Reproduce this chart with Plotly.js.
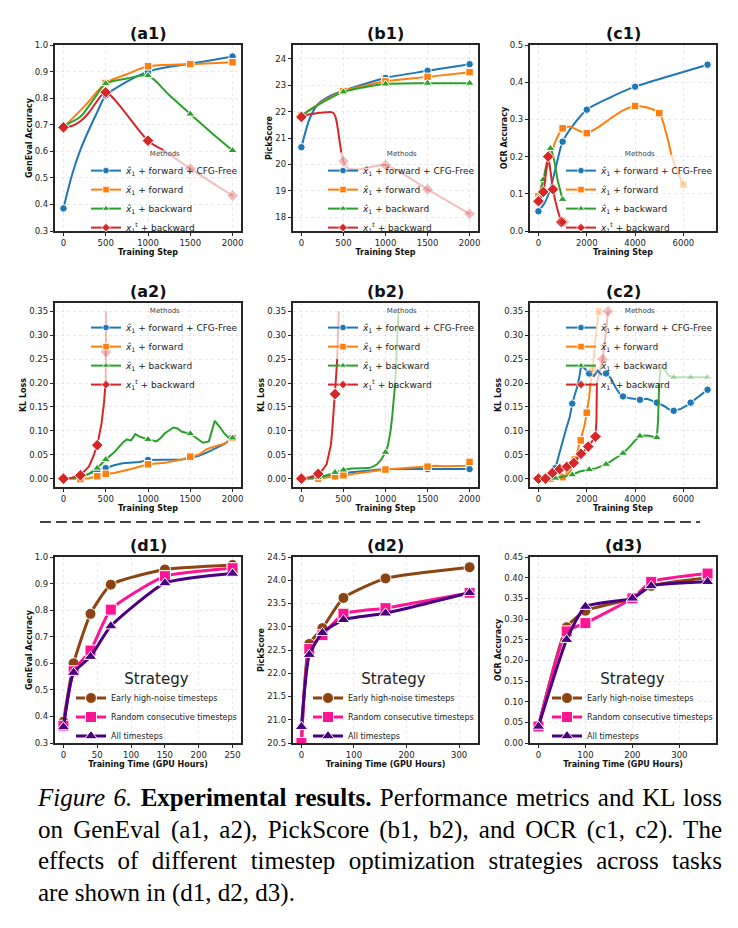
<!DOCTYPE html>
<html>
<head>
<meta charset="utf-8">
<script src="https://cdn.plot.ly/plotly-3.0.1.min.js"></script>
<style>
  html, body { margin:0; padding:0; background:#ffffff; }
  body { width:738px; height:928px; overflow:hidden; position:relative; }
  #plot { position:absolute; left:0; top:0; width:738px; height:780px; }
  #cap { position:absolute; left:38px; top:782px; width:684px; font-family:"Liberation Serif","Times New Roman",serif; font-size:25px; line-height:31.5px; color:#000; }
  #cap .ln { text-align:justify; text-align-last:justify; white-space:normal; }
  #cap .last { text-align:left; text-align-last:left; }
</style>
</head>
<body>
<div id="plot"></div>
<div id="cap">
  <div class="ln"><i>Figure 6.</i> <b>Experimental results.</b> Performance metrics and KL loss</div>
  <div class="ln">on GenEval (a1, a2), PickScore (b1, b2), and OCR (c1, c2). The</div>
  <div class="ln">effects of different timestep optimization strategies across tasks</div>
  <div class="ln last">are shown in (d1, d2, d3).</div>
</div>
<script>
// ---------------- DATA ----------------
const methodNames = [
  '<i>x̂</i><sub>1</sub> + forward + CFG-Free',
  '<i>x̂</i><sub>1</sub> + forward',
  '<i>x̂</i><sub>1</sub> + backward',
  '<i>x</i><sub>1</sub><sup>t</sup> + backward'
];
const strategyNames = ['Early high-noise timesteps', 'Random consecutive timesteps', 'All timesteps'];
const panelTitles = ['(a1)', '(b1)', '(c1)', '(a2)', '(b2)', '(c2)', '(d1)', '(d2)', '(d3)'];

const stepTicks = [0, 500, 1000, 1500, 2000];
const ocrStepTicks = [0, 2000, 4000, 6000];
const accTicks = [0.3, 0.4, 0.5, 0.6, 0.7, 0.8, 0.9, 1.0];
const pickTicks = [18, 19, 20, 21, 22, 23, 24];
const ocrTicks = [0.0, 0.1, 0.2, 0.3, 0.4, 0.5];
const klTicks = [0.00, 0.05, 0.10, 0.15, 0.20, 0.25, 0.30, 0.35];
const gpuTicksD1 = [0, 50, 100, 150, 200, 250];
const gpuTicksD23 = [0, 100, 200, 300];
const pickTicksD2 = [20.5, 21.0, 21.5, 22.0, 22.5, 23.0, 23.5, 24.0, 24.5];
const ocrTicksD3 = [0.00, 0.05, 0.10, 0.15, 0.20, 0.25, 0.30, 0.35, 0.40, 0.45];

// (a1) GenEval accuracy vs training step
const a1_cfg_line = [[0,0.385],[100,0.51],[200,0.605],[300,0.68],[400,0.748],[500,0.81],[750,0.862],[1000,0.9],[1250,0.918],[1500,0.93],[1750,0.943],[2000,0.957]];
const a1_cfg_mk = [[0,0.385],[500,0.81],[1000,0.9],[1500,0.93],[2000,0.957]];
const a1_fwd_line = [[0,0.69],[250,0.77],[500,0.857],[750,0.89],[1000,0.92],[1500,0.928],[2000,0.935]];
const a1_fwd_mk = [[0,0.69],[500,0.857],[1000,0.92],[1500,0.928],[2000,0.935]];
const a1_bwd_line = [[0,0.695],[200,0.73],[300,0.77],[400,0.815],[500,0.855],[750,0.874],[1000,0.885],[1250,0.812],[1500,0.74],[1750,0.67],[2000,0.603]];
const a1_bwd_mk = [[0,0.695],[500,0.855],[1000,0.885],[1500,0.74],[2000,0.603]];
const a1_x1t_line = [[0,0.69],[100,0.695],[200,0.713],[300,0.745],[400,0.79],[500,0.822],[1000,0.64],[1180,0.605]];
const a1_x1t_fade = [[1180,0.605],[1500,0.535],[2000,0.433]];
const a1_x1t_mk = [[0,0.69],[500,0.822],[1000,0.64]];
const a1_x1t_fmk = [[1500,0.535],[2000,0.433]];

// (b1) PickScore vs training step
const b1_cfg_line = [[0,20.65],[100,21.75],[200,22.3],[300,22.52],[400,22.68],[500,22.8],[750,23.05],[1000,23.28],[1500,23.55],[2000,23.8]];
const b1_cfg_mk = [[0,20.65],[500,22.8],[1000,23.28],[1500,23.55],[2000,23.8]];
const b1_fwd_line = [[0,21.85],[250,22.38],[500,22.78],[750,22.98],[1000,23.15],[1500,23.32],[2000,23.5]];
const b1_fwd_mk = [[0,21.85],[500,22.78],[1000,23.15],[1500,23.32],[2000,23.5]];
const b1_bwd_line = [[0,21.85],[250,22.35],[500,22.75],[750,22.93],[1000,23.05],[1500,23.08],[2000,23.08]];
const b1_bwd_mk = [[0,21.85],[500,22.75],[1000,23.05],[1500,23.08],[2000,23.08]];
const b1_x1t_line = [[0,21.8],[100,21.9],[200,21.95],[300,21.98],[370,21.97],[400,21.85],[420,21.6],[440,21.2],[460,20.75],[475,20.45]];
const b1_x1t_fade = [[475,20.45],[500,20.12],[550,19.87],[650,19.8],[800,19.88],[1000,19.97],[1500,19.05],[2000,18.12]];
const b1_x1t_mk = [[0,21.8]];
const b1_x1t_fmk = [[500,20.12],[1000,19.97],[1500,19.05],[2000,18.12]];

// (c1) OCR accuracy vs training step
const c1_cfg_line = [[0,0.053],[250,0.075],[500,0.115],[750,0.18],[1000,0.24],[1500,0.29],[2000,0.326],[3000,0.36],[4000,0.388],[5500,0.418],[7000,0.447]];
const c1_cfg_mk = [[0,0.053],[1000,0.24],[2000,0.326],[4000,0.388],[7000,0.447]];
const c1_fwd_line = [[0,0.093],[300,0.16],[500,0.2],[700,0.24],[1000,0.276],[1300,0.28],[1600,0.272],[2000,0.263],[2500,0.28],[3000,0.303],[3500,0.324],[4000,0.336],[4500,0.332],[5000,0.317],[5300,0.26],[5500,0.205]];
const c1_fwd_fade = [[5500,0.205],[5750,0.16],[6000,0.125]];
const c1_fwd_mk = [[0,0.093],[1000,0.276],[2000,0.263],[4000,0.336],[5000,0.317]];
const c1_fwd_fmk = [[6000,0.125]];
const c1_bwd_line = [[0,0.09],[200,0.138],[350,0.185],[500,0.222],[650,0.19],[800,0.135],[1000,0.085]];
const c1_bwd_mk = [[0,0.09],[200,0.138],[500,0.222],[1000,0.085]];
const c1_x1t_line = [[0,0.08],[200,0.105],[300,0.15],[400,0.2],[500,0.16],[600,0.112],[780,0.06],[950,0.024]];
const c1_x1t_fade = [[950,0.024],[1050,0.024]];
const c1_x1t_mk = [[0,0.08],[200,0.105],[400,0.2],[600,0.112],[950,0.024]];
const c1_x1t_fmk = [[1050,0.024]];

// (a2) KL loss, GenEval
const a2_cfg_line = [[0,0],[200,0.003],[300,0.01],[400,0.016],[500,0.022],[600,0.028],[700,0.032],[900,0.035],[1000,0.039],[1200,0.039],[1400,0.04],[1500,0.043],[1600,0.048],[1700,0.055],[1800,0.063],[1900,0.072],[2000,0.085]];
const a2_cfg_mk = [[0,0],[400,0.016],[500,0.022],[1000,0.039],[1500,0.043],[2000,0.085]];
const a2_fwd_line = [[0,0],[200,-0.001],[300,0.001],[400,0.005],[500,0.01],[600,0.012],[800,0.02],[1000,0.03],[1200,0.033],[1400,0.04],[1500,0.046],[1600,0.05],[1700,0.062],[1800,0.068],[1900,0.073],[2000,0.085]];
const a2_fwd_mk = [[0,0],[200,-0.001],[400,0.005],[500,0.01],[1000,0.03],[1500,0.046],[2000,0.085]];
const a2_bwd_line = [[0,0],[200,0.003],[300,0.01],[400,0.022],[500,0.04],[600,0.055],[700,0.075],[750,0.082],[800,0.08],[850,0.093],[900,0.088],[1000,0.082],[1100,0.078],[1150,0.085],[1200,0.095],[1300,0.107],[1350,0.105],[1400,0.098],[1500,0.094],[1600,0.08],[1650,0.075],[1720,0.078],[1760,0.1],[1790,0.121],[1850,0.108],[1900,0.095],[1950,0.086],[2000,0.085]];
const a2_bwd_mk = [[0,0],[400,0.022],[500,0.04],[1000,0.082],[1500,0.094],[2000,0.085]];
const a2_x1t_line = [[0,0],[100,0.002],[200,0.007],[300,0.025],[350,0.045],[400,0.07],[450,0.115],[480,0.16],[500,0.205]];
const a2_x1t_fade = [[500,0.205],[502,0.265],[505,0.35]];
const a2_x1t_mk = [[0,0],[200,0.007],[400,0.07]];
const a2_x1t_fmk = [[502,0.265]];

// (b2) KL loss, PickScore
const b2_cfg_line = [[0,0],[200,0.003],[500,0.012],[1000,0.02],[1500,0.02],[2000,0.02]];
const b2_cfg_mk = [[0,0],[500,0.012],[1000,0.02],[1500,0.02],[2000,0.02]];
const b2_fwd_line = [[0,0],[200,0],[400,0.005],[500,0.007],[1000,0.019],[1500,0.025],[1600,0.027],[1700,0.026],[1800,0.027],[1950,0.027],[2000,0.035]];
const b2_fwd_mk = [[0,0],[200,0],[400,0.005],[500,0.007],[1000,0.019],[1500,0.025],[2000,0.035]];
const b2_bwd_line = [[0,0],[200,0.002],[300,0.007],[400,0.013],[500,0.018],[600,0.021],[800,0.022],[850,0.025],[900,0.03],[950,0.04],[1000,0.055],[1030,0.07],[1060,0.1],[1080,0.13],[1100,0.165],[1115,0.2]];
const b2_bwd_fade = [[1115,0.2],[1135,0.27],[1155,0.35]];
const b2_bwd_mk = [[0,0],[200,0.002],[400,0.013],[500,0.018],[1000,0.055]];
const b2_x1t_line = [[0,0],[100,0.003],[200,0.01],[250,0.018],[300,0.03],[325,0.048],[350,0.07],[365,0.097],[380,0.13],[400,0.177],[415,0.22],[425,0.25]];
const b2_x1t_fade = [[425,0.25],[435,0.3],[445,0.35]];
const b2_x1t_mk = [[0,0],[200,0.01],[400,0.177]];

// (c2) KL loss, OCR
const c2_cfg_line = [[0,0],[300,0],[500,0.005],[700,0.022],[850,0.05],[1000,0.08],[1150,0.105],[1300,0.13],[1400,0.157],[1500,0.175],[1620,0.194],[1700,0.215],[1750,0.232],[1850,0.234],[1950,0.228],[2100,0.22],[2300,0.215],[2450,0.226],[2600,0.218],[2800,0.22],[3000,0.21],[3200,0.19],[3400,0.175],[3500,0.172],[3800,0.168],[4200,0.165],[4500,0.167],[4800,0.162],[4900,0.159],[5200,0.152],[5400,0.145],[5600,0.142],[5900,0.146],[6200,0.155],[6300,0.159],[6600,0.17],[7000,0.186]];
const c2_cfg_mk = [[0,0],[700,0.022],[1400,0.157],[2100,0.22],[2800,0.22],[3500,0.172],[4200,0.165],[4900,0.159],[5600,0.142],[6300,0.159],[7000,0.186]];
const c2_fwd_line = [[0,0],[500,0],[1000,0.003],[1250,0.015],[1400,0.03],[1500,0.04],[1600,0.055],[1750,0.08],[1900,0.11],[2000,0.138],[2100,0.17],[2150,0.2]];
const c2_fwd_fade = [[2150,0.2],[2250,0.23],[2350,0.29],[2500,0.35]];
const c2_fwd_mk = [[0,0],[500,0],[1000,0.003],[1250,0.015],[1500,0.04],[1750,0.08],[2000,0.138]];
const c2_fwd_fmk = [[2250,0.23],[2500,0.35]];
const c2_bwd_line = [[0,0],[700,0.001],[1000,0.004],[1400,0.008],[1700,0.015],[2100,0.019],[2400,0.022],[2800,0.03],[3100,0.04],[3500,0.053],[3800,0.068],[4000,0.08],[4200,0.089],[4500,0.09],[4900,0.086],[4950,0.12],[5000,0.2]];
const c2_bwd_fade = [[5000,0.2],[5050,0.232],[5200,0.23],[5400,0.215],[5600,0.212],[6300,0.212],[7000,0.212]];
const c2_bwd_mk = [[0,0],[700,0.001],[1400,0.008],[2100,0.019],[2800,0.03],[3500,0.053],[4200,0.089],[4900,0.086]];
const c2_bwd_fmk = [[5600,0.212],[6300,0.212],[7000,0.212]];
const c2_x1t_line = [[0,0],[290,0],[580,0.012],[880,0.02],[1180,0.025],[1460,0.033],[1760,0.052],[2060,0.067],[2360,0.088],[2400,0.12],[2420,0.2]];
const c2_x1t_fade = [[2420,0.2],[2550,0.225],[2660,0.25],[2780,0.3],[2880,0.35]];
const c2_x1t_mk = [[0,0],[290,0],[580,0.012],[880,0.02],[1180,0.025],[1460,0.033],[1760,0.052],[2060,0.067],[2360,0.088]];
const c2_x1t_fmk = [[2660,0.25],[2880,0.35]];

// (d1)-(d3) timestep strategies vs GPU hours
const d1_hours = [0, 15, 40, 70, 150, 250];
const d1_early = [0.38, 0.60, 0.786, 0.896, 0.953, 0.97];
const d1_random = [0.365, 0.57, 0.648, 0.802, 0.928, 0.958];
const d1_all = [0.36, 0.565, 0.625, 0.74, 0.902, 0.938];

const d2_hours = [0, 15, 40, 80, 160, 320];
const d2_early = [20.5, 22.63, 22.97, 23.62, 24.04, 24.28];
const d2_random = [20.5, 22.52, 22.82, 23.28, 23.4, 23.73];
const d2_all = [20.85, 22.4, 22.87, 23.15, 23.29, 23.73];

const d3_hours = [0, 60, 100, 200, 240, 360];
const d3_early = [0.04, 0.28, 0.32, 0.35, 0.38, 0.40];
const d3_random = [0.04, 0.27, 0.29, 0.35, 0.39, 0.41];
const d3_all = [0.04, 0.25, 0.33, 0.35, 0.38, 0.39];

// ---------------- STYLE / LAYOUT ----------------
const W = 738, H = 780;
const cols = [[55, 241], [293, 478], [530, 716]];
const rows = [[45, 231], [303, 487], [557, 743]];
const METHOD_COLORS = ['#1f77b4', '#ff7f0e', '#2ca02c', '#d62728'];
const METHOD_SYMBOLS = ['circle', 'square', 'triangle-up', 'diamond'];
const METHOD_SIZES = [7.5, 7.5, 8, 9];
const STRAT_COLORS = ['#8B4513', '#FF1493', '#4B0082'];
const STRAT_SYMBOLS = ['circle', 'square', 'triangle-up'];
const FONT = 'DejaVu Sans, Arial, sans-serif';

const xs = a => a.map(p => p[0]);
const ys = a => a.map(p => p[1]);
const sfx = k => (k === 1 ? '' : String(k));

const traces = [];
const layout = {
  width: W, height: H,
  margin: {l: 0, r: 0, t: 0, b: 0},
  paper_bgcolor: '#ffffff', plot_bgcolor: '#ffffff',
  showlegend: true,
  annotations: [], shapes: []
};

const panels = [
  {r:0, c:0, xr:[-100,2100], yr:[0.3,1.0], xt:stepTicks, yt:accTicks, yf:'.1f', xtitle:'Training Step', ytitle:'GenEval Accuracy'},
  {r:0, c:1, xr:[-100,2100], yr:[17.47,24.53], xt:stepTicks, yt:pickTicks, yf:'d', xtitle:'Training Step', ytitle:'PickScore'},
  {r:0, c:2, xr:[-350,7350], yr:[0,0.5], xt:ocrStepTicks, yt:ocrTicks, yf:'.1f', xtitle:'Training Step', ytitle:'OCR Accuracy'},
  {r:1, c:0, xr:[-100,2100], yr:[-0.0175,0.3675], xt:stepTicks, yt:klTicks, yf:'.2f', xtitle:'Training Step', ytitle:'KL Loss'},
  {r:1, c:1, xr:[-100,2100], yr:[-0.0175,0.3675], xt:stepTicks, yt:klTicks, yf:'.2f', xtitle:'Training Step', ytitle:'KL Loss'},
  {r:1, c:2, xr:[-350,7350], yr:[-0.0175,0.3675], xt:ocrStepTicks, yt:klTicks, yf:'.2f', xtitle:'Training Step', ytitle:'KL Loss'},
  {r:2, c:0, xr:[-12.5,262.5], yr:[0.3,1.0], xt:gpuTicksD1, yt:accTicks, yf:'.1f', xtitle:'Training Time (GPU Hours)', ytitle:'GenEval Accuracy'},
  {r:2, c:1, xr:[-16,336], yr:[20.5,24.5], xt:gpuTicksD23, yt:pickTicksD2, yf:'.1f', xtitle:'Training Time (GPU Hours)', ytitle:'PickScore'},
  {r:2, c:2, xr:[-18,378], yr:[0,0.45], xt:gpuTicksD23, yt:ocrTicksD3, yf:'.2f', xtitle:'Training Time (GPU Hours)', ytitle:'OCR Accuracy'}
];

const axisCommon = {
  showline: true, mirror: true, linecolor: '#262626', linewidth: 1.6,
  ticks: 'outside', ticklen: 3.5, tickwidth: 1, tickcolor: '#262626',
  tickfont: {family: FONT, size: 8.5, color: '#222'},
  showgrid: true, gridcolor: '#e4e4e4', gridwidth: 0.8, griddash: 'dot',
  zeroline: false, fixedrange: true
};

panels.forEach((p, i) => {
  const k = i + 1, s = sfx(k);
  const [l, r] = cols[p.c], [t, b] = rows[p.r];
  layout['xaxis' + s] = Object.assign({}, axisCommon, {
    domain: [l / W, r / W], anchor: 'y' + s, range: p.xr,
    tickmode: 'array', tickvals: p.xt, ticktext: p.xt.map(String),
    title: {text: '<b>' + p.xtitle + '</b>', font: {family: FONT, size: 8, color: '#111'}, standoff: 2}
  });
  layout['yaxis' + s] = Object.assign({}, axisCommon, {
    domain: [1 - b / H, 1 - t / H], anchor: 'x' + s, range: p.yr,
    tickmode: 'array', tickvals: p.yt, tickformat: p.yf,
    title: {text: '<b>' + p.ytitle + '</b>', font: {family: FONT, size: 8, color: '#111'}, standoff: 1}
  });
  layout.annotations.push({
    text: '<b>' + panelTitles[i] + '</b>', xref: 'paper', yref: 'paper',
    x: (l + r) / 2 / W, y: 1 - (t - 11.5) / H, xanchor: 'center', yanchor: 'middle',
    showarrow: false, font: {family: FONT, size: 16, color: '#111'}
  });
});

function legendCfg(k, leftPx, topPx, title, titleSize, fontSize) {
  layout[k === 1 ? 'legend' : 'legend' + k] = {
    x: leftPx / W, y: 1 - topPx / H, xanchor: 'left', yanchor: 'top',
    xref: 'paper', yref: 'paper', bgcolor: 'rgba(0,0,0,0)', borderwidth: 0,
    font: {family: FONT, size: fontSize, color: '#222'},
    title: {text: title, side: 'top center', font: {family: FONT, size: titleSize, color: title === 'Methods' ? '#444' : '#222'}},
    itemwidth: 30, tracegroupgap: 0, traceorder: 'normal'
  };
}

function addMethod(k, si, line, fade, mk, fmk) {
  const s = sfx(k);
  const base = {xaxis: 'x' + s, yaxis: 'y' + s, showlegend: false, hoverinfo: 'skip'};
  const col = METHOD_COLORS[si];
  const shape = k <= 3 ? {shape: 'spline', smoothing: 0.8} : {shape: 'linear'};
  const mstyle = {symbol: METHOD_SYMBOLS[si], size: METHOD_SIZES[si], color: col, line: {color: '#ffffff', width: 1}};
  if (line) traces.push(Object.assign({}, base, {x: xs(line), y: ys(line), mode: 'lines', line: Object.assign({color: col, width: 2}, shape)}));
  if (fade) traces.push(Object.assign({}, base, {x: xs(fade), y: ys(fade), mode: 'lines', opacity: 0.3, line: Object.assign({color: col, width: 2}, shape)}));
  if (mk) traces.push(Object.assign({}, base, {x: xs(mk), y: ys(mk), mode: 'markers', marker: mstyle}));
  if (fmk) traces.push(Object.assign({}, base, {x: xs(fmk), y: ys(fmk), mode: 'markers', opacity: 0.3, marker: mstyle}));
}
function addMethodLegend(k) {
  const s = sfx(k);
  methodNames.forEach((nm, si) => {
    traces.push({
      x: [null], y: [null], xaxis: 'x' + s, yaxis: 'y' + s, name: nm,
      legend: k === 1 ? 'legend' : 'legend' + k, showlegend: true, hoverinfo: 'skip',
      mode: 'lines+markers', line: {color: METHOD_COLORS[si], width: 2},
      marker: {symbol: METHOD_SYMBOLS[si], size: 6.5, color: METHOD_COLORS[si], line: {color: '#ffffff', width: 0.8}}
    });
  });
}

// row 1
addMethod(1, 0, a1_cfg_line, null, a1_cfg_mk, null);
addMethod(1, 1, a1_fwd_line, null, a1_fwd_mk, null);
addMethod(1, 2, a1_bwd_line, null, a1_bwd_mk, null);
addMethod(1, 3, a1_x1t_line, a1_x1t_fade, a1_x1t_mk, a1_x1t_fmk);
addMethodLegend(1);
addMethod(2, 0, b1_cfg_line, null, b1_cfg_mk, null);
addMethod(2, 1, b1_fwd_line, null, b1_fwd_mk, null);
addMethod(2, 2, b1_bwd_line, null, b1_bwd_mk, null);
addMethod(2, 3, b1_x1t_line, b1_x1t_fade, b1_x1t_mk, b1_x1t_fmk);
addMethodLegend(2);
addMethod(3, 0, c1_cfg_line, null, c1_cfg_mk, null);
addMethod(3, 1, c1_fwd_line, c1_fwd_fade, c1_fwd_mk, c1_fwd_fmk);
addMethod(3, 2, c1_bwd_line, null, c1_bwd_mk, null);
addMethod(3, 3, c1_x1t_line, c1_x1t_fade, c1_x1t_mk, c1_x1t_fmk);
addMethodLegend(3);
// row 2
addMethod(4, 0, a2_cfg_line, null, a2_cfg_mk, null);
addMethod(4, 1, a2_fwd_line, null, a2_fwd_mk, null);
addMethod(4, 2, a2_bwd_line, null, a2_bwd_mk, null);
addMethod(4, 3, a2_x1t_line, a2_x1t_fade, a2_x1t_mk, a2_x1t_fmk);
addMethodLegend(4);
addMethod(5, 0, b2_cfg_line, null, b2_cfg_mk, null);
addMethod(5, 1, b2_fwd_line, null, b2_fwd_mk, null);
addMethod(5, 2, b2_bwd_line, b2_bwd_fade, b2_bwd_mk, null);
addMethod(5, 3, b2_x1t_line, b2_x1t_fade, b2_x1t_mk, null);
addMethodLegend(5);
addMethod(6, 0, c2_cfg_line, null, c2_cfg_mk, null);
addMethod(6, 1, c2_fwd_line, c2_fwd_fade, c2_fwd_mk, c2_fwd_fmk);
addMethod(6, 2, c2_bwd_line, c2_bwd_fade, c2_bwd_mk, c2_bwd_fmk);
addMethod(6, 3, c2_x1t_line, c2_x1t_fade, c2_x1t_mk, c2_x1t_fmk);
addMethodLegend(6);

// row 3
function addStrategies(k, hours, seriesList) {
  const s = sfx(k);
  seriesList.forEach((vals, si) => {
    traces.push({
      x: hours, y: vals, xaxis: 'x' + s, yaxis: 'y' + s, name: strategyNames[si],
      legend: 'legend' + k, showlegend: true, hoverinfo: 'skip',
      mode: 'lines+markers', line: {color: STRAT_COLORS[si], width: 3, shape: 'spline', smoothing: 0.5},
      marker: {symbol: STRAT_SYMBOLS[si], size: 11, color: STRAT_COLORS[si], line: {color: '#ffffff', width: 1}}
    });
  });
}
addStrategies(7, d1_hours, [d1_early, d1_random, d1_all]);
addStrategies(8, d2_hours, [d2_early, d2_random, d2_all]);
addStrategies(9, d3_hours, [d3_early, d3_random, d3_all]);

// legends
legendCfg(1, 86, 147, 'Methods', 7, 9);
legendCfg(2, 323, 147, 'Methods', 7, 9);
legendCfg(3, 561, 147, 'Methods', 7, 9);
legendCfg(4, 86, 304, 'Methods', 7, 9);
legendCfg(5, 323, 304, 'Methods', 7, 9);
legendCfg(6, 561, 304, 'Methods', 7, 9);
legendCfg(7, 71, 664, 'Strategy', 15, 8);
legendCfg(8, 308, 664, 'Strategy', 15, 8);
legendCfg(9, 547, 664, 'Strategy', 15, 8);

// dashed separator between rows
layout.shapes.push({
  type: 'line', xref: 'paper', yref: 'paper',
  x0: 40 / W, x1: 700 / W, y0: 1 - 522 / H, y1: 1 - 522 / H,
  line: {color: '#444444', width: 2.2, dash: '11px,5px'}
});

Plotly.newPlot('plot', traces, layout, {displayModeBar: false, staticPlot: true});
</script>
</body>
</html>
